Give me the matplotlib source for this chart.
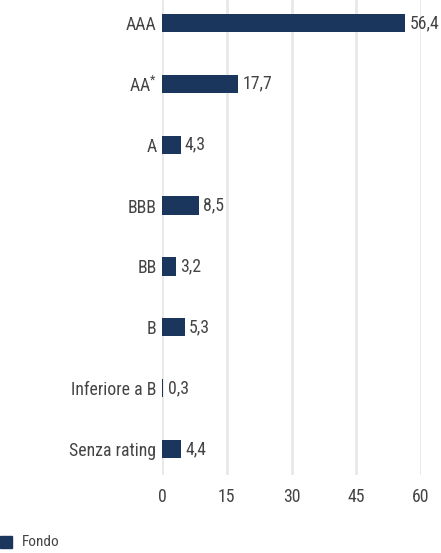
import matplotlib
matplotlib.use("Agg")
import os
import matplotlib.pyplot as plt
from matplotlib.patches import Rectangle
from matplotlib import font_manager

categories = ["AAA", "AA$^{*}$", "A", "BBB", "BB", "B", "Inferiore a B", "Senza rating"]
values = [56.4, 17.7, 4.3, 8.5, 3.2, 5.3, 0.3, 4.4]
labels = ["56,4", "17,7", "4,3", "8,5", "3,2", "5,3", "0,3", "4,4"]
xticks = [0, 15, 30, 45, 60]
series_name = "Fondo"

# find a condensed / narrow face if installed
cands = []
for f in font_manager.fontManager.ttflist:
    b = os.path.basename(f.fname).lower()
    if ("condensed" in b or "narrow" in b) and "bold" not in b and "italic" not in b \
            and "semi" not in b and "extra" not in b and "black" not in b and "medium" not in b \
            and "thin" not in b and "oblique" not in b:
        cands.append((b, f.fname))
prio = ["robotocondensed-light", "robotocondensed-regular", "liberationsansnarrow-regular",
        "notosans-condensedlight", "notosans-condensed", "opensans-condensed",
        "lato", "dejavusanscondensed"]
chosen = None
for p in prio:
    for b, fn in sorted(cands):
        if b.startswith(p):
            chosen = fn
            break
    if chosen:
        break
if chosen is None and cands:
    chosen = sorted(cands)[0][1]

if chosen:
    font_manager.fontManager.addfont(chosen)
    fname = font_manager.FontProperties(fname=chosen).get_name()
    plt.rcParams['font.family'] = [fname, "DejaVu Sans"]
    if "DejaVu" in fname:
        plt.rcParams['font.stretch'] = 'condensed'
else:
    plt.rcParams['font.family'] = ["Roboto", "DejaVu Sans"]
plt.rcParams['mathtext.fontset'] = 'custom'
plt.rcParams['mathtext.rm'] = plt.rcParams['font.family'][0]
plt.rcParams['mathtext.it'] = plt.rcParams['font.family'][0]

navy = "#1b365d"
txt = "#444444"
fs = 12.8

fig = plt.figure(figsize=(4.41, 5.53), dpi=100)
ax = fig.add_axes([162/441, 1-475/553, (421-162)/441, 475/553])
y = list(range(len(categories)))
ax.barh(y, values, height=0.30, color=navy, zorder=3)
for yi, v, l in zip(y, values, labels):
    ax.text(v + 1.0, yi, l, va="center", ha="left", fontsize=fs, color=txt)
ax.set_xlim(0, 60)
ax.set_ylim(7 + 26/61, -23/61)
ax.set_yticks(y)
ax.set_yticklabels(categories, fontsize=fs, color=txt)
ax.set_xticks(xticks)
ax.set_xticklabels([str(t) for t in xticks], fontsize=fs, color=txt)
ax.tick_params(length=0, pad=4)
ax.tick_params(axis="x", pad=9)
ax.grid(axis="x", color="#e8e8e8", linewidth=2, zorder=0)
ax.set_axisbelow(True)
for s in ax.spines.values():
    s.set_visible(False)

fig.patches.append(Rectangle((0, 1-548/553), 12/441, 12/553, transform=fig.transFigure, color=navy))
fig.text(22/441, 1-542/553, series_name, fontsize=11, color=txt, va="center", ha="left")

fig.savefig("out.png", dpi=100)
